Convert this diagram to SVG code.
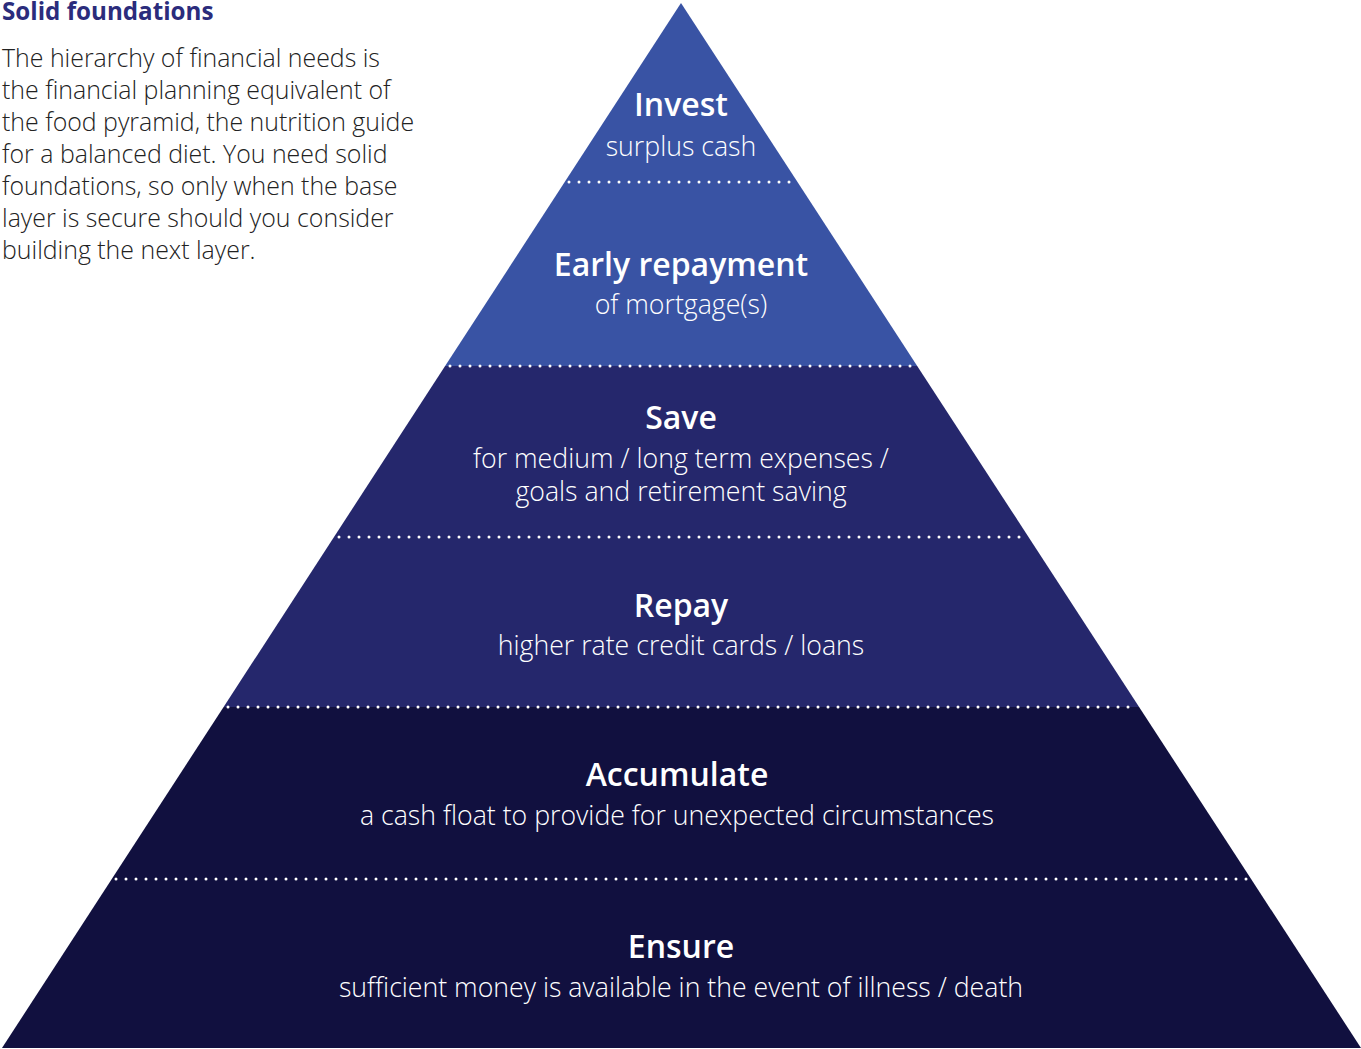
<svg xmlns="http://www.w3.org/2000/svg" width="1361" height="1049" viewBox="0 0 1361 1049">
<style>
.t1{fill:#3953a4}.t2{fill:#25276c}.t3{fill:#11103f}
.h{font-family:"Open Sans","Liberation Sans",sans-serif;font-weight:600;font-size:32px;fill:#fff;text-anchor:middle}
.s{font-family:"Open Sans","Liberation Sans",sans-serif;font-weight:300;font-size:26.7px;fill:#fff;text-anchor:middle}
.b{font-family:"Open Sans","Liberation Sans",sans-serif;font-weight:300;font-size:24.9px;fill:#222}
.dot{stroke:#fff;stroke-width:3;stroke-linecap:round;stroke-dasharray:0 10;fill:none}
</style>
<rect width="1361" height="1049" fill="#fff"/>
<g id="intro">
<text x="2" y="20" font-family="'Open Sans','Liberation Sans',sans-serif" font-weight="700" font-size="24.2" fill="#2b2c7c">Solid foundations</text>
<text class="b" x="2" y="67">The hierarchy of financial needs is</text>
<text class="b" x="2" y="99">the financial planning equivalent of</text>
<text class="b" x="2" y="131">the food pyramid, the nutrition guide</text>
<text class="b" x="2" y="163">for a balanced diet. You need solid</text>
<text class="b" x="2" y="195">foundations, so only when the base</text>
<text class="b" x="2" y="227">layer is secure should you consider</text>
<text class="b" x="2" y="259">building the next layer.</text>
</g>
<g id="invest">
<polygon class="t1" points="681,3 797.5,182 564.7,182"/>
<text class="h" x="681" y="116">Invest</text>
<text class="s" x="681" y="156">surplus cash</text>
</g>
<g id="early-repayment">
<polygon class="t1" points="564.7,182 797.5,182 917.2,366 445.1,366"/>
<text class="h" x="681" y="276">Early repayment</text>
<text class="s" x="681" y="314">of mortgage(s)</text>
</g>
<g id="save">
<polygon class="t2" points="445.1,366 917.2,366 1028.5,537 334,537"/>
<text class="h" x="681" y="429">Save</text>
<text class="s" x="681" y="468">for medium / long term expenses /</text>
<text class="s" x="681" y="501">goals and retirement saving</text>
</g>
<g id="repay">
<polygon class="t2" points="334,537 1028.5,537 1139.1,707 223.6,707"/>
<text class="h" x="681" y="617">Repay</text>
<text class="s" x="681" y="655">higher rate credit cards / loans</text>
</g>
<g id="accumulate">
<polygon class="t3" points="223.6,707 1139.1,707 1251.1,879 111.8,879"/>
<text class="h" x="677" y="786">Accumulate</text>
<text class="s" x="677" y="825">a cash float to provide for unexpected circumstances</text>
</g>
<g id="ensure">
<polygon class="t3" points="111.8,879 1251.1,879 1361,1048 2,1048"/>
<text class="h" x="681" y="958">Ensure</text>
<text class="s" x="681" y="997">sufficient money is available in the event of illness / death</text>
</g>
<g id="connectors">
<line class="dot" x1="569" y1="182" x2="796" y2="182"/>
<line class="dot" x1="450" y1="366" x2="915" y2="366"/>
<line class="dot" x1="339" y1="537" x2="1027" y2="537"/>
<line class="dot" x1="228" y1="707" x2="1137" y2="707"/>
<line class="dot" x1="116" y1="879" x2="1249" y2="879"/>
</g>
</svg>
